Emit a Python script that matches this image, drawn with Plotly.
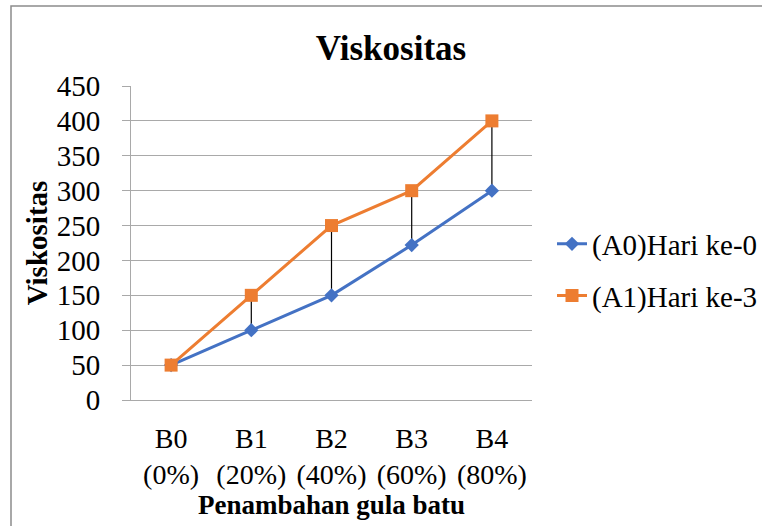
import plotly.graph_objects as go

categories = ["B0<br>(0%)", "B1<br>(20%)", "B2<br>(40%)", "B3<br>(60%)", "B4<br>(80%)"]
a0_values = [50, 100, 150, 222, 300]
a1_values = [50, 150, 250, 300, 400]
y_ticks = [0, 50, 100, 150, 200, 250, 300, 350, 400, 450]
series_names = ["(A0)Hari ke-0", "(A1)Hari ke-3"]

FONT = "Liberation Serif, Times New Roman, serif"
GRID = "#a9a9a9"

# high-low (drop) lines between the two series
drop_x, drop_y = [], []
for c, lo, hi in zip(categories, a0_values, a1_values):
    drop_x += [c, c, None]
    drop_y += [lo, hi, None]

fig = go.Figure()
fig.add_trace(go.Scatter(x=drop_x, y=drop_y, mode="lines",
                         line=dict(color="black", width=1.2),
                         showlegend=False, hoverinfo="skip"))
fig.add_trace(go.Scatter(x=categories, y=a0_values, name=series_names[0],
                         mode="lines+markers", legendgroup="a0",
                         line=dict(color="#4472C4", width=3),
                         marker=dict(symbol="diamond", size=11, color="#4472C4")))
fig.add_trace(go.Scatter(x=categories, y=a1_values, name=series_names[1],
                         mode="lines+markers", legendgroup="a1",
                         line=dict(color="#ED7D31", width=3),
                         marker=dict(symbol="square", size=13, color="#ED7D31")))

L, R, T, B = 131, 230, 86, 126
W, H = 762, 526
pw, ph = W - L - R, H - T - B

def px_x(p):
    return (p - L) / pw

def px_y(p):
    return (H - B - p) / ph

fig.update_layout(
    width=W, height=H,
    margin=dict(l=L, r=R, t=T, b=B, autoexpand=False),
    paper_bgcolor="white", plot_bgcolor="white",
    font=dict(family=FONT, size=29, color="black"),
    title=dict(text="<b>Viskositas</b>", font=dict(size=35, family=FONT),
               x=391 / W, xanchor="center", y=1 - 48 / H, yanchor="middle",
               xref="container", yref="container"),
    xaxis=dict(type="category", range=[-0.5, 4.5], showgrid=False,
               showline=True, linecolor=GRID, linewidth=1,
               ticks="", ticklabelstandoff=13, tickfont=dict(size=28),
               title=dict(text="<b>Penambahan gula batu</b>", standoff=4,
                          font=dict(size=27, family=FONT))),
    yaxis=dict(range=[0, 450], tickvals=y_ticks, showgrid=True,
               gridcolor=GRID, gridwidth=1, zeroline=False,
               showline=True, linecolor=GRID, linewidth=1,
               ticks="outside", ticklen=8, tickcolor=GRID,
               ticklabelstandoff=16,
               title=dict(text="<b>Viskositas</b>", standoff=0,
                          font=dict(size=29, family=FONT))),
    legend=dict(x=px_x(552), xanchor="left", y=px_y(270), yanchor="middle",
                font=dict(size=29, family=FONT), tracegroupgap=11,
                bgcolor="rgba(0,0,0,0)"),
    shapes=[dict(type="rect", xref="paper", yref="paper",
                 x0=px_x(11), x1=px_x(W + 20), y0=px_y(H + 20), y1=px_y(6),
                 line=dict(color="#8c8c8c", width=1.5), layer="below")],
)

fig.write_html("out.html", config={"displayModeBar": False},
               post_script="document.body.style.margin='0';")
